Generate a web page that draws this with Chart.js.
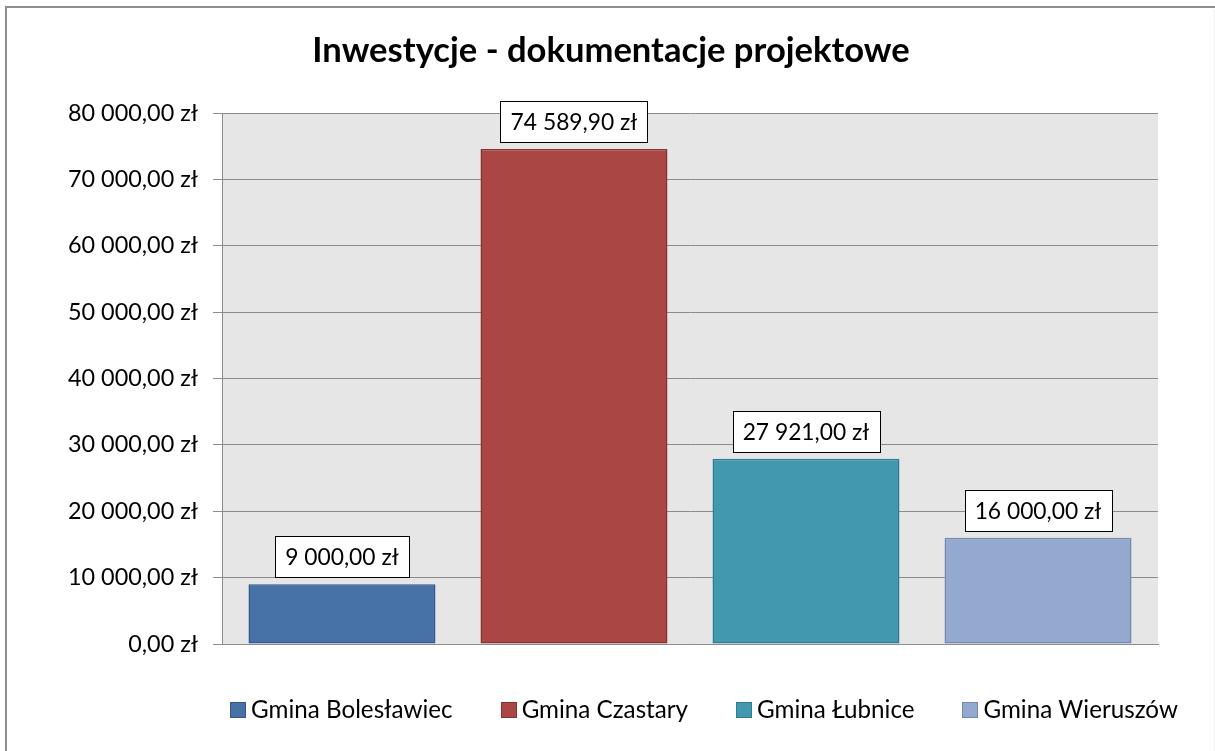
<!DOCTYPE html>
<html>
<head>
<meta charset="utf-8">
<title>Inwestycje - dokumentacje projektowe</title>
<script src="https://cdn.jsdelivr.net/npm/chart.js@4.4.1/dist/chart.umd.min.js"></script>
<style>
	html, body { margin: 0; padding: 0; background: #fff; }
	#wrap { width: 1215px; height: 751px; }
</style>
</head>
<body>
<div id="wrap"><canvas id="chart" width="1215" height="751"></canvas></div>
<script>
// Data
const categories = [''];
const seriesNames = ['Gmina Bolesławiec', 'Gmina Czastary', 'Gmina Łubnice', 'Gmina Wieruszów'];
const seriesValues = [9000, 74589.90, 27921, 16000];
const yTickValues = [0, 10000, 20000, 30000, 40000, 50000, 60000, 70000, 80000];
const chartTitle = 'Inwestycje - dokumentacje projektowe';

const fillColors = ['#4672A8', '#AA4643', '#4198AF', '#93A9CF'];
const borderColors = ['#34588A', '#86332F', '#2F7C90', '#7489B0'];
const gridColor = '#8C8C8C';
const fontFamily = 'Lato, "Open Sans", sans-serif';

// Pick a font size so a sample string fills a given width (Calibri stand-in)
let measureCtx = document.createElement('canvas').getContext('2d');
function fitSize(text, width, weight) {
	measureCtx.font = weight + ' 100px ' + fontFamily;
	return Math.round(100 * width / measureCtx.measureText(text).width * 10) / 10;
}

let tickSize = fitSize('80 000,00 zł', 130, 'normal');
let titleSize = fitSize(chartTitle, 598, 'bold');
let legendSize = fitSize('Gmina Bolesławiec', 202, 'normal');
let labelSize = fitSize('74 589,90 zł', 127, 'normal');

function formatZl(v) {
	let parts = Number(v).toFixed(2).split('.');
	let intPart = parts[0].replace(/\B(?=(\d{3})+(?!\d))/g, ' ');
	return intPart + ',' + parts[1] + ' zł';
}

// Grey plot area, outer frame and the title
const backgroundPlugin = {
	id: 'plotBackground',
	beforeDraw(chart) {
		const ctx = chart.ctx;
		const a = chart.chartArea;
		ctx.save();
		ctx.fillStyle = '#fff';
		ctx.fillRect(0, 0, chart.width, chart.height);
		ctx.fillStyle = '#E6E6E6';
		ctx.fillRect(a.left, a.top, a.right - a.left, a.bottom - a.top);

		ctx.strokeStyle = '#8E8E8E';
		ctx.lineWidth = 2;
		ctx.strokeRect(6, 7, 1220, 760);
		ctx.strokeStyle = '#F0F0F0';
		ctx.lineWidth = 1;
		ctx.beginPath();
		ctx.moveTo(1214.5, 9);
		ctx.lineTo(1214.5, 751);
		ctx.stroke();

		ctx.fillStyle = '#000';
		ctx.font = 'bold ' + titleSize + 'px ' + fontFamily;
		ctx.textAlign = 'center';
		ctx.textBaseline = 'alphabetic';
		ctx.fillText(chartTitle, 611, 62);
		ctx.restore();
	}
};

// Boxed value labels above each bar
const valueLabelPlugin = {
	id: 'valueLabels',
	afterDatasetsDraw(chart) {
		const ctx = chart.ctx;
		ctx.save();
		ctx.font = labelSize + 'px ' + fontFamily;
		ctx.textAlign = 'center';
		ctx.textBaseline = 'middle';
		chart.data.datasets.forEach(function(ds, i) {
			let bar = chart.getDatasetMeta(i).data[0];
			let text = formatZl(ds.data[0]);
			let w = Math.round(ctx.measureText(text).width + 20);
			let h = 41;
			let left = Math.round(bar.x - w / 2) + 0.5;
			let top = Math.round(bar.y - 7 - h) + 0.5;
			ctx.fillStyle = '#fff';
			ctx.fillRect(left, top, w, h);
			ctx.strokeStyle = '#000';
			ctx.lineWidth = 1;
			ctx.strokeRect(left, top, w, h);
			ctx.fillStyle = '#000';
			ctx.fillText(text, bar.x, top + h / 2 + 1);
		});
		ctx.restore();
	}
};

// Legend row under the plot
const legendPlugin = {
	id: 'bottomLegend',
	afterDraw(chart) {
		const ctx = chart.ctx;
		const box = 15;
		const gapBox = 6;
		const gapItem = 48;
		const centerX = 704;
		const y = 709;
		ctx.save();
		ctx.font = legendSize + 'px ' + fontFamily;
		let widths = seriesNames.map(n => ctx.measureText(n).width);
		let total = widths.reduce((s, w) => s + w + box + gapBox, 0) + gapItem * (seriesNames.length - 1);
		let x = centerX - total / 2;
		ctx.textBaseline = 'middle';
		ctx.textAlign = 'left';
		seriesNames.forEach(function(name, i) {
			ctx.fillStyle = fillColors[i];
			ctx.fillRect(Math.round(x) + 0.5, Math.round(y - box / 2) + 0.5, box, box);
			ctx.strokeStyle = borderColors[i];
			ctx.lineWidth = 1;
			ctx.strokeRect(Math.round(x) + 0.5, Math.round(y - box / 2) + 0.5, box, box);
			ctx.fillStyle = '#000';
			ctx.fillText(name, x + box + gapBox, y + 1);
			x += box + gapBox + widths[i] + gapItem;
		});
		ctx.restore();
	}
};

const datasets = seriesNames.map(function(name, i) {
	return {
		label: name,
		data: [seriesValues[i]],
		backgroundColor: fillColors[i],
		borderColor: borderColors[i],
		borderWidth: 1.5,
		borderSkipped: false,
		categoryPercentage: 0.9915,
		barPercentage: 0.806,
	};
});

const config = {
	type: 'bar',
	data: {
		labels: categories,
		datasets: datasets,
	},
	options: {
		responsive: false,
		animation: false,
		devicePixelRatio: 1,
		layout: {
			padding: { left: 0, right: 57, top: 113, bottom: 107 },
		},
		plugins: {
			legend: { display: false },
			tooltip: { enabled: false },
			title: { display: false },
		},
		scales: {
			x: {
				grid: { display: false },
				border: { display: true, color: gridColor, width: 1 },
				ticks: { display: false },
				afterFit(scale) { scale.height = 0; },
			},
			y: {
				min: 0,
				max: 80000,
				afterBuildTicks(scale) {
					scale.ticks = yTickValues.map(v => ({ value: v }));
				},
				grid: {
					color: gridColor,
					lineWidth: 1,
					drawTicks: true,
					tickLength: 9,
				},
				border: { display: true, color: gridColor, width: 1 },
				ticks: {
					color: '#000',
					padding: 15,
					font: { family: fontFamily, size: tickSize },
					callback: v => formatZl(v),
				},
				afterFit(scale) { scale.width = 222; },
			},
		},
	},
	plugins: [backgroundPlugin, valueLabelPlugin, legendPlugin],
};

let chart = new Chart(document.getElementById('chart').getContext('2d'), config);
</script>
</body>
</html>
